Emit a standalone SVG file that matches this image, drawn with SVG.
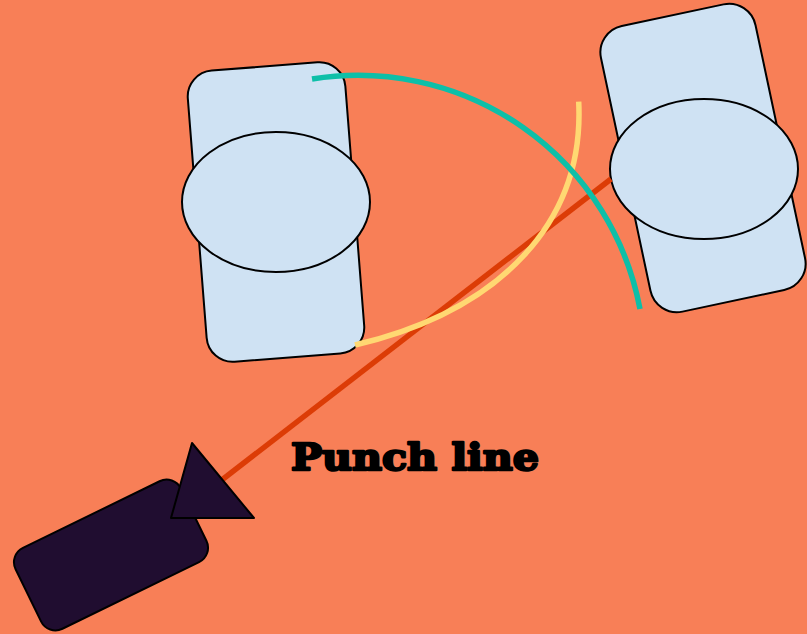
<svg xmlns="http://www.w3.org/2000/svg" width="807" height="634" viewBox="0 0 807 634">
  <style>
    .card { fill: #CFE2F3; stroke: #000; stroke-width: 2; }
    .cam { fill: #200D30; stroke: #000; stroke-width: 2; stroke-linejoin: round; }
    .line { fill: none; stroke-width: 5.5; }
    .label { font-family: "DejaVu Serif", "Liberation Serif", serif; font-weight: 900; font-size: 37px; fill: #000; stroke: #000; stroke-width: 2.4; stroke-linejoin: round; }
  </style>
  <rect x="0" y="0" width="807" height="634" fill="#F87F57"/>
  <g id="subject-left">
    <rect class="card" x="-79" y="-146" width="158" height="292" rx="26" transform="translate(276,212) rotate(-4.5)"/>
    <ellipse class="card" cx="276" cy="202" rx="94" ry="70"/>
  </g>
  <g id="subject-right">
    <rect class="card" x="-79" y="-146" width="158" height="292" rx="27" transform="translate(703,158) rotate(-12)"/>
    <ellipse class="card" cx="704" cy="169" rx="94" ry="70"/>
  </g>
  <g id="connectors">
    <line class="line" x1="205" y1="493" x2="611" y2="179" stroke="#DC3C06"/>
    <path class="line" d="M578.7,101.7 C584.7,221.7 501,310.4 355,345" stroke="#FFD872"/>
    <path class="line" d="M312,79 A287,287 0 0 1 640,309" stroke="#0DBFA8" stroke-width="6"/>
  </g>
  <g id="camera">
    <rect class="cam" x="-92" y="-45" width="184" height="90" rx="16" transform="translate(111,555) rotate(-26)"/>
    <polygon class="cam" points="192,443 171,518 254,518"/>
  </g>
  <g id="label">
    <text class="label" x="291" y="470" textLength="248" lengthAdjust="spacingAndGlyphs">Punch line</text>
  </g>
</svg>
